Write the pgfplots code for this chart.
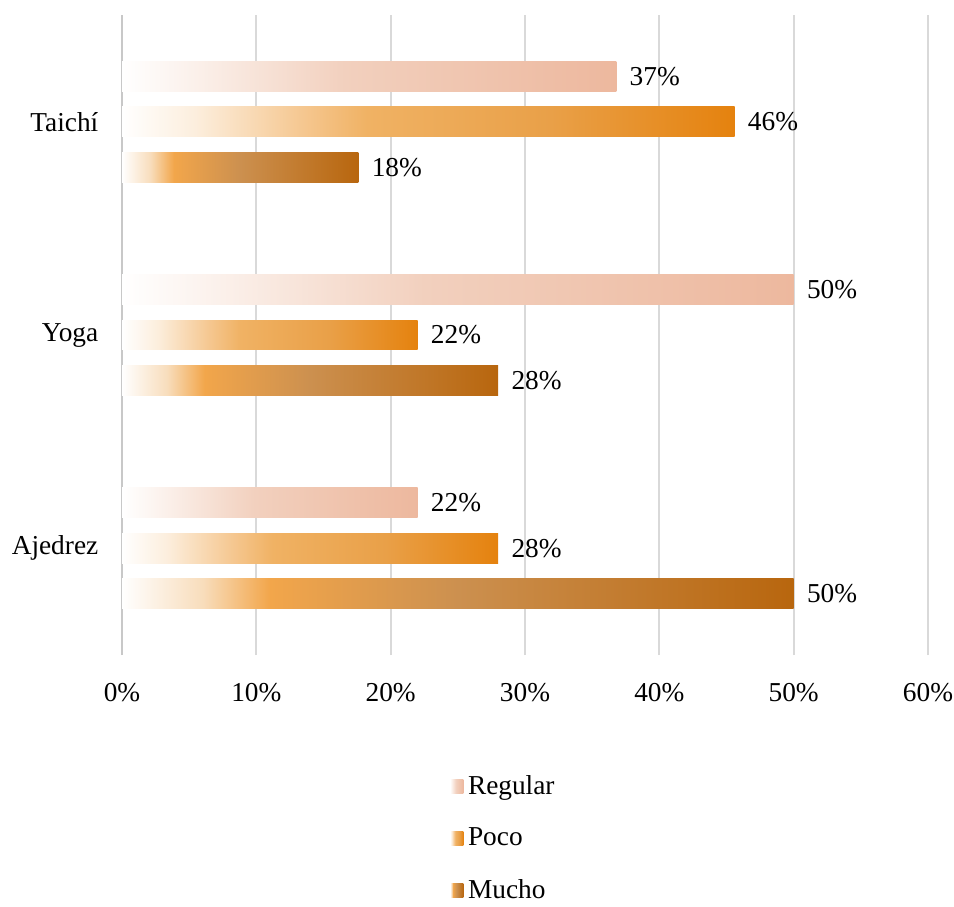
\documentclass[border=0pt]{standalone}
\usepackage{pgfplots}
\pgfplotsset{compat=1.18}
\usepackage{fontspec}
\setmainfont{Liberation Serif}
\definecolor{r1}{HTML}{FBF0EA}
\definecolor{r2}{HTML}{F2D0BE}
\definecolor{r3}{HTML}{EDB89E}
\definecolor{p1}{HTML}{FCEEDD}
\definecolor{p2}{HTML}{F5C68E}
\definecolor{p3}{HTML}{F0B264}
\definecolor{p4}{HTML}{E9A048}
\definecolor{p5}{HTML}{E5820E}
\definecolor{m1}{HTML}{F8DDBC}
\definecolor{m2}{HTML}{F2A64B}
\definecolor{m3}{HTML}{CC904F}
\definecolor{m4}{HTML}{B8660E}
\definecolor{gridc}{HTML}{D9D9D9}
\pgfdeclarehorizontalshading{regshade}{100bp}{color(0bp)=(white); color(25bp)=(white); color(32.5bp)=(r1); color(47.5bp)=(r2); color(75bp)=(r3); color(100bp)=(r3)}
\pgfdeclarehorizontalshading{pocshade}{100bp}{color(0bp)=(white); color(25bp)=(white); color(31bp)=(p1); color(40bp)=(p2); color(45bp)=(p3); color(60bp)=(p4); color(75bp)=(p5); color(100bp)=(p5)}
\pgfdeclarehorizontalshading{mucshade}{100bp}{color(0bp)=(white); color(25bp)=(white); color(31bp)=(m1); color(36bp)=(m2); color(50bp)=(m3); color(75bp)=(m4); color(100bp)=(m4)}
\pgfplotsset{
  reg/.style={shade, shading=regshade, draw=none, bar shift=0.213},
  poc/.style={shade, shading=pocshade, draw=none, bar shift=0},
  muc/.style={shade, shading=mucshade, draw=none, bar shift=-0.213},
}
\begin{document}
\begin{tikzpicture}
\begin{axis}[
  name=ax,
  scale only axis,
  width=604.5pt, height=480pt,
  xmin=0, xmax=60, ymin=-0.5, ymax=2.5,
  xtick={0,10,...,60},
  xticklabel={\pgfmathprintnumber{\tick}\%},
  /pgf/number format/assume math mode=true,
  ytick={0,1,2},
  yticklabels={Ajedrez,Yoga,Taichí},
  xmajorgrids,
  major grid style={gridc, line width=1.5pt},
  extra x ticks={0},
  extra x tick labels={},
  extra x tick style={major grid style={gridc!92!black, line width=2.2pt}},
  axis line style={draw=none},
  tick style={draw=none},
  ticklabel style={font=\fontsize{20.5}{24}\selectfont},
  xticklabel style={yshift=-17.5pt},
  yticklabel style={xshift=-10pt},
  xbar,
  bar width=0.14,
  nodes near coords={\pgfmathprintnumber[fixed,precision=0]{\pgfplotspointmeta}\%},
  every node near coord/.append style={font=\fontsize{20.5}{24}\selectfont, anchor=west, xshift=6.5pt},
  legend style={draw=none, at={(0.405,-0.182)}, anchor=north west, font=\fontsize{20.5}{24}\selectfont, row sep=19.5pt, legend cell align=left, inner sep=1pt},
  legend image code/.code={\path[#1, draw=none] (0pt,-5.5pt) rectangle (10pt,5pt); \path (0pt,0pt) -- (11.5pt,0pt);},
]
\addplot[reg] coordinates {(36.8,2)};
\addplot[poc] coordinates {(45.6,2)};
\addplot[muc] coordinates {(17.6,2)};
\addplot[reg, forget plot] coordinates {(50,1)};
\addplot[poc, forget plot] coordinates {(22,1)};
\addplot[muc, forget plot] coordinates {(28,1)};
\addplot[reg, forget plot] coordinates {(22,0)};
\addplot[poc, forget plot] coordinates {(28,0)};
\addplot[muc, forget plot] coordinates {(50,0)};
\legend{Regular,Poco,Mucho}
\end{axis}
\pgfresetboundingbox
\path[use as bounding box] ([shift={(-91.5pt,-188.25pt)}]ax.south west) rectangle ([shift={(19.5pt,11.25pt)}]ax.north east);
\end{tikzpicture}
\end{document}
